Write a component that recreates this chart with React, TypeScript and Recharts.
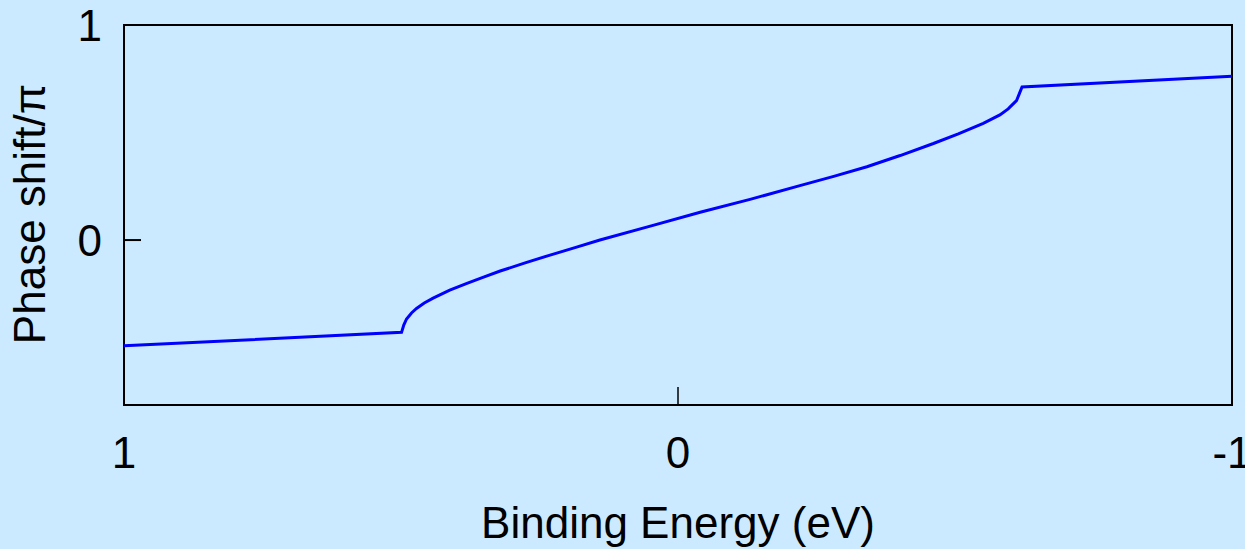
import { LineChart, Line, XAxis, YAxis, ReferenceArea } from 'recharts';

// binding energy (eV) and phase shift (in units of pi)
const energy = [1.0, 0.499, 0.495, 0.49, 0.481, 0.472, 0.458, 0.442, 0.412, 0.381, 0.351, 0.321, 0.276, 0.231, 0.186, 0.141, 0.05, -0.04, -0.13, -0.22, -0.281, -0.341, -0.401, -0.461, -0.506, -0.551, -0.581, -0.596, -0.605, -0.611, -0.616, -0.621, -1.0];
const phase = [-0.492, -0.429, -0.395, -0.367, -0.339, -0.318, -0.293, -0.27, -0.233, -0.2015, -0.172, -0.144, -0.106, -0.07, -0.035, 0.0, 0.065, 0.129, 0.189, 0.253, 0.296, 0.341, 0.393, 0.449, 0.494, 0.543, 0.582, 0.61, 0.633, 0.648, 0.68, 0.712, 0.762];

const xTicks = [1, 0, -1];
const yTicks = [0, 1];
const yMin = -0.767;

const data = energy.map((e, i) => ({ e, p: phase[i] }));

const FONT = '"Liberation Sans", Arial, Helvetica, sans-serif';

const renderXTick = (props: any) => {
  const { x, y, payload } = props;
  return (
    <g key={`xt-${payload.value}`}>
      <line x1={x} y1={y} x2={x} y2={y - 18} stroke="#000" strokeWidth={1.5} />
      <text x={x} y={y + 63} textAnchor="middle" fontSize={44} fontFamily={FONT} fill="#000">
        {payload.value}
      </text>
    </g>
  );
};

const renderYTick = (props: any) => {
  const { x, y, payload } = props;
  return (
    <g key={`yt-${payload.value}`}>
      <line x1={x} y1={y} x2={x + 17} y2={y} stroke="#000" strokeWidth={2} />
      <text x={x - 22} y={y + 16} textAnchor="end" fontSize={44} fontFamily={FONT} fill="#000">
        {payload.value}
      </text>
    </g>
  );
};

export default function App() {
  return (
    <div style={{ position: 'fixed', left: 0, top: 0, width: 1245, height: 549, background: '#cceaff', overflow: 'hidden' }}>
      <LineChart width={1245} height={549} data={data} margin={{ top: 25, right: 13, bottom: 114, left: 64 }}>
        <XAxis
          dataKey="e"
          type="number"
          domain={[-1, 1]}
          reversed
          ticks={xTicks}
          height={30}
          tickSize={0}
          tickMargin={0}
          axisLine={false}
          tickLine={false}
          tick={renderXTick}
          interval={0}
        />
        <YAxis
          type="number"
          domain={[yMin, 1]}
          ticks={yTicks}
          width={60}
          tickSize={0}
          tickMargin={0}
          axisLine={false}
          tickLine={false}
          tick={renderYTick}
          interval={0}
          allowDataOverflow
        />
        <ReferenceArea x1={1} x2={-1} y1={yMin} y2={1} fill="none" fillOpacity={0} stroke="#000" strokeWidth={2} />
        <Line
          dataKey="p"
          type="linear"
          stroke="#0000ff"
          strokeWidth={3}
          dot={false}
          isAnimationActive={false}
        />
      </LineChart>
      <svg width={1245} height={549} style={{ position: 'absolute', left: 0, top: 0, pointerEvents: 'none' }}>
        <text x={678} y={538} textAnchor="middle" fontSize={44} fontFamily={FONT} fill="#000">
          Binding Energy (eV)
        </text>
        <text x={45} y={214} textAnchor="middle" fontSize={44} fontFamily={FONT} fill="#000" transform="rotate(-90, 45, 214)">
          Phase shift/π
        </text>
      </svg>
    </div>
  );
}
